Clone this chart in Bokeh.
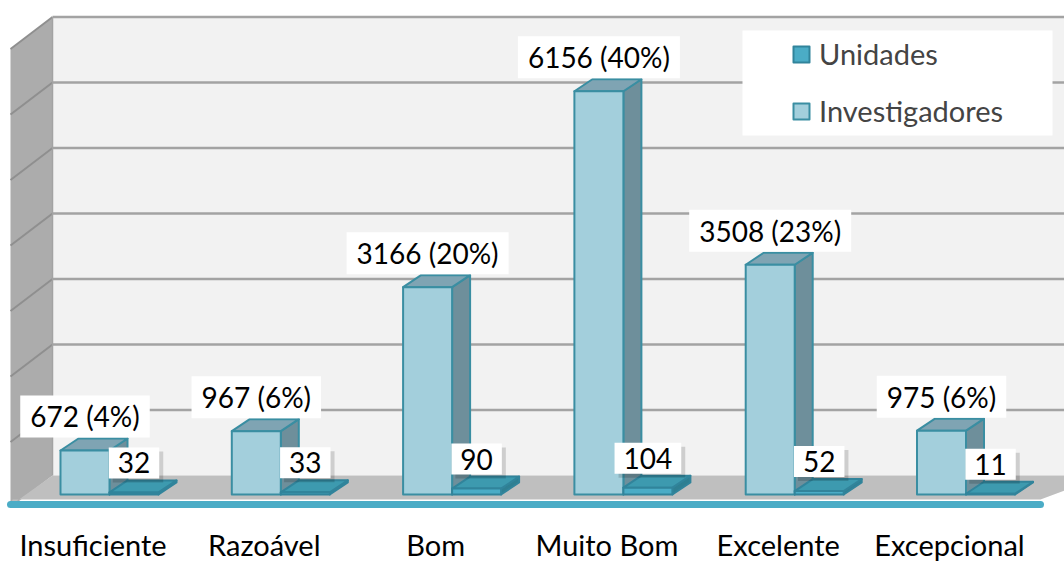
import numpy as np
from bokeh.plotting import figure
from bokeh.models import Range1d, Legend, LegendItem
from bokeh.core.properties import value
from bokeh.embed import file_html
from bokeh.resources import INLINE

# ---------------- data ----------------
categories = ["Insuficiente", "Razoável", "Bom", "Muito Bom", "Excelente", "Excepcional"]
investigadores = [672, 967, 3166, 6156, 3508, 975]
investigadores_pct = [4, 6, 20, 40, 23, 6]
unidades = [32, 33, 90, 104, 52, 11]
y_ticks = [0, 1000, 2000, 3000, 4000, 5000, 6000, 7000]

# ---------------- geometry (screen px -> data) ----------------
W, H = 1064, 562
OFF = 0                     # page offset of the figure
K = 171.3                   # px per category
SY = 0.0655                 # px per unit
X0 = 92.5                   # px (figure) of category 0 centre
Y0 = (OFF + H) - 475        # px above frame bottom of back-wall zero

x0d = -X0 / K
x1d = (W - X0) / K
y0d = -Y0 / SY
y1d = (H - Y0) / SY


def px(dx):
    return dx / K


def py(dy):
    return dy / SY


def rx(ref_x):  # page x pixel -> data
    return (ref_x - OFF - X0) / K


def ry(ref_y):  # page y pixel -> data
    return ((OFF + H - ref_y) - Y0) / SY


p = figure(width=W, height=H, output_backend="svg", toolbar_location=None,
           x_range=Range1d(x0d, x1d), y_range=Range1d(y0d, y1d),
           min_border=0, outline_line_color=None,
           background_fill_color="white", border_fill_color="white")
p.axis.visible = False
p.grid.visible = False

FONT = "Lato"

# ---------------- walls and floor ----------------
WALL_L = rx(52)
WALL_R = rx(1080)
SIDE_L = rx(10)
DEPTH_DY = py(32)
top = y_ticks[-1]

# left side wall
p.patch([SIDE_L, WALL_L, WALL_L, SIDE_L],
        [top - DEPTH_DY, top, 0, -DEPTH_DY],
        fill_color="#ACACAC", line_color=None)
# back wall
p.patch([WALL_L, WALL_R, WALL_R, WALL_L], [0, 0, top, top],
        fill_color="#F2F2F2", line_color=None)
# floor
FRONT_Y = ry(499)
p.patch([WALL_L, WALL_R, rx(1064), rx(1040), SIDE_L + px(2), SIDE_L],
        [0, 0, ry(490), FRONT_Y, FRONT_Y, -DEPTH_DY + py(2)],
        fill_color="#BFBFBF", line_color=None)
# gridlines on back wall and side wall
gy = [t for t in y_ticks if t > 0]
p.segment(x0=[WALL_L] * len(gy), y0=gy, x1=[WALL_R] * len(gy), y1=gy,
          line_color="#A3A3A3", line_width=2.5)
p.segment(x0=[SIDE_L] * len(gy), y0=[g - DEPTH_DY for g in gy],
          x1=[WALL_L] * len(gy), y1=gy, line_color="#8F8F8F", line_width=2)
p.segment(x0=[WALL_L], y0=[0], x1=[WALL_L], y1=[top], line_color="#A3A3A3", line_width=1.5)
# blue axis line at front of floor
p.line([SIDE_L, rx(1040)], [ry(504), ry(504)], line_color="#4BACC6",
       line_width=7, line_cap="round")

# ---------------- bars ----------------
BASE = ry(494)          # front-plane zero
BW = px(49)
BDX = px(18)
BDY = py(12)
INV_L = -px(32.5)
UNI_L = INV_L + BW


def box_faces(x_left, h):
    xl, xr = x_left, x_left + BW
    yb, yt = BASE, BASE + h
    front = ([xl, xr, xr, xl], [yb, yb, yt, yt])
    topf = ([xl, xr, xr + BDX, xl + BDX], [yt, yt, yt + BDY, yt + BDY])
    side = ([xr, xr + BDX, xr + BDX, xr], [yb, yb + BDY, yt + BDY, yt])
    return front, topf, side


uni_front, uni_top, uni_side = [], [], []
inv_front, inv_top, inv_side = [], [], []
for i in range(len(categories)):
    f, t, s = box_faces(i + UNI_L, unidades[i])
    uni_front.append(f); uni_top.append(t); uni_side.append(s)
    f, t, s = box_faces(i + INV_L, investigadores[i])
    inv_front.append(f); inv_top.append(t); inv_side.append(s)


def draw(faces, color, line):
    return p.patches([f[0] for f in faces], [f[1] for f in faces],
                     fill_color=color, line_color=line, line_width=2,
                     line_join="round")


draw(inv_side, "#6E8F9B", "#3A8EA2")
draw(inv_top, "#7FA4B3", "#3A8EA2")
r_inv = draw(inv_front, "#A3CFDC", "#3A8EA2")

draw(uni_side, "#2F7F92", "#31849B")
draw(uni_top, "#3D9AAF", "#31849B")
r_uni = draw(uni_front, "#4BACC6", "#31849B")

# ---------------- category labels ----------------
p.text(x=list(range(len(categories))), y=[ry(544)] * len(categories), text=categories,
       text_align="center", text_baseline="middle",
       text_font=value(FONT), text_font_size="29px", text_color="#000000")

# ---------------- data labels ----------------
inv_labels = [f"{v} ({pc}%)" for v, pc in zip(investigadores, investigadores_pct)]
inv_x = [i + INV_L + BW / 2 for i in range(len(categories))]
inv_y = [BASE + v for v in investigadores]
p.text(x=inv_x, y=inv_y, text=inv_labels, y_offset=-13,
       text_align="center", text_baseline="bottom",
       text_font=value(FONT), text_font_size="28px", text_color="#000000",
       background_fill_color="white",
       padding={"left": 10, "right": 10, "top": 4, "bottom": 4})

uni_labels = [str(v) for v in unidades]
uni_x = [i + UNI_L + BW / 2 for i in range(len(categories))]
uni_y = [BASE + v for v in unidades]
UPAD = {"left": 9, "right": 9, "top": 5, "bottom": 5}
# soft shadow
p.text(x=uni_x, y=uni_y, text=uni_labels, y_offset=-10, x_offset=4,
       text_align="center", text_baseline="bottom",
       text_font=value(FONT), text_font_size="28px", text_alpha=0,
       background_fill_color="#000000", background_fill_alpha=0.15, padding=UPAD)
p.text(x=uni_x, y=uni_y, text=uni_labels, y_offset=-14,
       text_align="center", text_baseline="bottom",
       text_font=value(FONT), text_font_size="28px", text_color="#000000",
       background_fill_color="white", padding=UPAD)

# ---------------- legend ----------------
p.quad(left=[rx(742)], right=[rx(1052)], top=[ry(30)], bottom=[ry(135)],
       fill_color="white", line_color=None)
legend = Legend(items=[LegendItem(label="Unidades", renderers=[r_uni]),
                       LegendItem(label="Investigadores", renderers=[r_inv])],
                location=(791 - OFF, (OFF + H) - 128),
                background_fill_alpha=0, border_line_color=None,
                label_text_font=FONT, label_text_font_size="29px",
                glyph_width=20, glyph_height=20, label_standoff=8,
                spacing=22, padding=0, margin=0, label_height=32)
p.add_layout(legend, "center")

open("out.html", "w").write(file_html(p, INLINE))
